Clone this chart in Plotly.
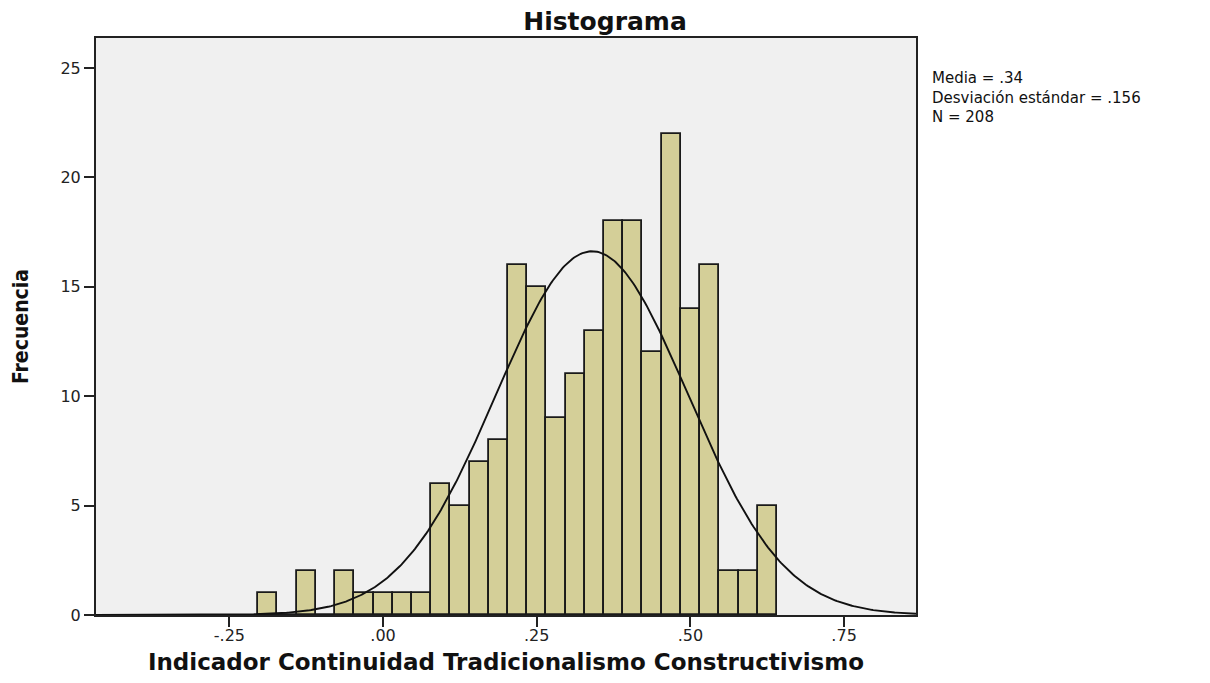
import numpy as np
import plotly.graph_objects as go

# ---- data ----
bin_start = -0.203
bin_width = 0.03125
counts = [1, 0, 2, 0, 2, 1, 1, 1, 1, 6, 5, 7, 8, 16, 15, 9, 11, 13,
          18, 18, 12, 22, 14, 16, 2, 2, 5]
mean = 0.34
std = 0.156
n_total = 208
x_ticks = [-0.25, 0.0, 0.25, 0.50, 0.75]
x_tick_labels = ["-.25", ".00", ".25", ".50", ".75"]
y_ticks = [0, 5, 10, 15, 20, 25]
x_range = [-0.467, 0.867]
y_range = [0, 26.37]
stats_lines = ["Media = .34", "Desviación estándar = .156", "N = 208"]

centers = [bin_start + (i + 0.5) * bin_width for i in range(len(counts))]

# normal curve from the reported statistics
xc = np.linspace(x_range[0], x_range[1], 500)
yc = n_total * bin_width * np.exp(-0.5 * ((xc - mean) / std) ** 2) / (std * np.sqrt(2 * np.pi))

fig = go.Figure()
fig.add_trace(go.Bar(
    x=centers, y=counts, width=bin_width,
    marker=dict(color="#d4cf98", line=dict(color="#1a1a1a", width=1.8)),
    showlegend=False, hoverinfo="x+y",
))
fig.add_trace(go.Scatter(
    x=xc, y=yc, mode="lines",
    line=dict(color="#111111", width=1.9),
    showlegend=False, hoverinfo="skip",
))

tick_font = dict(family="DejaVu Sans, Arial, sans-serif", size=16, color="#222222")

W, H = 1194, 667
fig.update_layout(
    width=W, height=H,
    margin=dict(l=88, r=286, t=30, b=60, autoexpand=False),
    paper_bgcolor="white",
    plot_bgcolor="#f0f0f0",
    bargap=0,
    title=dict(
        text="Histograma", x=0.5, xanchor="center", xref="container",
        y=1 - 13 / H, yanchor="middle", yref="container",
        font=dict(family="DejaVu Sans, Arial, sans-serif", size=25, color="#111111", weight="bold"),
    ),
    xaxis=dict(
        range=x_range, tickmode="array", tickvals=x_ticks, ticktext=x_tick_labels,
        ticks="outside", ticklen=10, tickwidth=2, tickcolor="#222222",
        showline=True, linecolor="#222222", linewidth=2, mirror=True,
        showgrid=False, zeroline=False, tickfont=tick_font, automargin=False,
        ticklabelstandoff=-5,
        title=dict(
            text="Indicador Continuidad Tradicionalismo Constructivismo",
            font=dict(family="DejaVu Sans, Arial, sans-serif", size=23, color="#111111", weight="bold"),
            standoff=13,
        ),
    ),
    yaxis=dict(
        range=y_range, tickmode="array", tickvals=y_ticks,
        ticks="outside", ticklen=10, tickwidth=2, tickcolor="#222222",
        showline=True, linecolor="#222222", linewidth=2, mirror=True,
        showgrid=False, zeroline=False, tickfont=tick_font, automargin=False,
        title=dict(
            text="Frecuencia",
            font=dict(family="Liberation Sans Narrow, Arial Narrow, DejaVu Sans Condensed, sans-serif",
                      size=21, color="#111111", weight="bold"),
            standoff=26,
        ),
    ),
)

fig.add_annotation(
    text="<br>".join(stats_lines), xref="paper", yref="paper", x=1.017, y=0.95,
    xanchor="left", yanchor="top", align="left", showarrow=False,
    font=dict(family="DejaVu Sans, Arial, sans-serif", size=15, color="#111111"),
)

fig.write_html("out.html")
